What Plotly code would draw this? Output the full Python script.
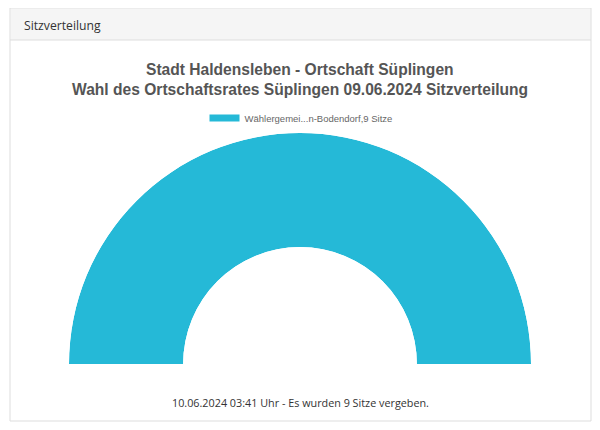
import plotly.graph_objects as go

# seat distribution data
parties = ["Wählergemei...n-Bodendorf"]
seats = [9]
colors = ["#25b9d7"]

title_lines = [
    "Stadt Haldensleben - Ortschaft Süplingen",
    "Wahl des Ortschaftsrates Süplingen 09.06.2024 Sitzverteilung",
]
panel_title = "Sitzverteilung"
footer = "10.06.2024 03:41 Uhr - Es wurden %d Sitze vergeben." % sum(seats)

# the page body has an 8px margin, so the figure is a bit smaller than the window
OFF = 8
W, H = 592, 422


def px(x):
    return (x - OFF) / W


def py(y):
    return 1 - (y - OFF) / H


fig = go.Figure()

# each party gets a slice of the half circle, proportional to its seats
total = sum(seats)
start = 180.0
for name, n, c in zip(parties, seats, colors):
    span = 180.0 * n / total
    fig.add_trace(go.Barpolar(
        r=[total], theta=[start - span / 2], width=[span],
        marker=dict(color=c, line=dict(width=0)),
        name="%s,%d Sitze" % (name, n),
        showlegend=False,
        hoverinfo="name",
    ))
    # legend entry with a wide swatch
    fig.add_trace(go.Scatterpolar(
        r=[None], theta=[None], mode="lines",
        line=dict(color=c, width=7),
        name="%s,%d Sitze" % (name, n),
    ))
    start -= span

fig.update_layout(
    width=W, height=H,
    margin=dict(l=0, r=0, t=0, b=0),
    paper_bgcolor="white",
    polar=dict(
        domain=dict(x=[px(69), px(531)], y=[py(364), py(133)]),
        sector=[0, 180],
        hole=0.506,
        bgcolor="white",
        radialaxis=dict(visible=False, range=[0, total]),
        angularaxis=dict(visible=False),
    ),
    legend=dict(
        orientation="h", x=px(301), xanchor="center", y=py(118), yanchor="middle",
        font=dict(family="Liberation Sans, Arial", size=9.5, color="#666666"),
        itemwidth=30,
    ),
    font=dict(family="Open Sans", color="#333333"),
)

# chart title, two lines
for line, y in zip(title_lines, [70, 89]):
    fig.add_annotation(text="<b>%s</b>" % line, xref="paper", yref="paper",
                       x=px(300), y=py(y), xanchor="center", yanchor="middle",
                       showarrow=False,
                       font=dict(family="Liberation Sans, Arial", size=15.6,
                                 color="#555555"))

# panel frame like the web page card
fig.add_shape(type="rect", xref="paper", yref="paper",
              x0=px(10.5), x1=px(590.5), y0=py(40), y1=py(8.5),
              line=dict(width=0), fillcolor="#f5f5f5", layer="below")
fig.add_shape(type="line", xref="paper", yref="paper",
              x0=px(10), x1=px(591), y0=py(40), y1=py(40),
              line=dict(color="#dddddd", width=1), layer="below")
fig.add_shape(type="rect", xref="paper", yref="paper",
              x0=px(10), x1=px(591), y0=py(421), y1=py(8),
              line=dict(color="#dddddd", width=1), fillcolor="rgba(0,0,0,0)",
              layer="below")

fig.add_annotation(text=panel_title, xref="paper", yref="paper",
                   x=px(22), y=py(25), xanchor="left", yanchor="middle",
                   showarrow=False,
                   font=dict(family="Open Sans", size=12.2, color="#333333"))
fig.add_annotation(text=footer, xref="paper", yref="paper",
                   x=px(300), y=py(402), xanchor="center", yanchor="middle",
                   showarrow=False,
                   font=dict(family="Open Sans", size=10.8, color="#333333"))

fig.write_html("out.html")
